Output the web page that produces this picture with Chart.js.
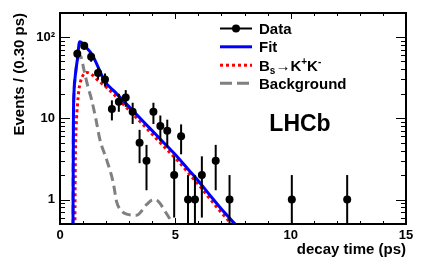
<!DOCTYPE html>
<html>
<head>
<meta charset="utf-8">
<script src="https://cdn.jsdelivr.net/npm/chart.js@4.4.0/dist/chart.umd.min.js"></script>
<style>
  html, body { margin: 0; padding: 0; background: #fff; }
  canvas { display: block; }
</style>
</head>
<body>
<canvas id="decay" width="427" height="267"></canvas>
<script>
// data points, events per 0.30 ps bin
const dataTime = [0.75, 1.05, 1.35, 1.65, 1.95, 2.25, 2.55, 2.85, 3.15, 3.45, 3.75, 4.05,
  4.35, 4.65, 4.95, 5.25, 5.55, 5.85, 6.15, 6.75, 7.35, 10.05, 12.45];
const dataCount = [62, 78, 57, 36, 30, 13, 16, 18, 12, 5, 3, 12, 8, 7, 2, 6, 1, 1, 2, 3, 1, 1, 1];
const dataError = [7.9, 8.8, 7.5, 6, 5.5, 3.6, 4, 4.2, 3.5, 2.2, 1.7, 3.5, 2.8, 2.6, 1.4, 2.4,
  1, 1, 1.4, 1.7, 1, 1, 1];

// total fit
const fitTime = [0.56, 0.58, 0.61, 0.65, 0.69, 0.75, 0.85, 0.92, 1.1, 1.4, 1.95, 2.4, 3.0, 3.9,
  4.5, 5.13, 5.6, 6.07, 6.5, 6.94, 7.59, 8.0];
const fitValue = [0.2, 8, 22, 31, 39, 52, 87, 86, 76, 60, 28.3, 20.8, 13.8, 7.5,
  5.0, 3.25, 2.28, 1.6, 1.13, 0.8, 0.5, 0.37];

// Bs -> K+K- component
const sigTime = [0.64, 0.655, 0.67, 0.70, 0.76, 0.82, 0.97, 1.16, 1.4, 1.62, 2.05, 2.4, 3.0,
  3.9, 4.5, 5.13, 5.6, 6.07, 6.5, 6.94, 7.59, 8.0];
const sigValue = [0.2, 1.5, 4, 8, 15, 22.4, 32.6, 36.6, 34, 29.7, 23.5, 18.8, 12.5,
  6.8, 4.5, 2.95, 2.07, 1.45, 1.02, 0.72, 0.45, 0.33];

// background component
const bkgTime = [0.56, 0.58, 0.61, 0.66, 0.72, 0.80, 0.89, 1.04, 1.21, 1.37, 1.56, 1.73, 2.02,
  2.31, 2.45, 2.6, 2.89, 3.32, 3.76, 4.04, 4.26, 4.55, 4.84, 5.0];
const bkgValue = [0.2, 8, 20, 32, 45, 56, 58, 39, 24.4, 16.9, 9.6, 5.45, 3.1,
  1.6, 0.95, 0.76, 0.66, 0.64, 0.87, 1.0, 0.95, 0.72, 0.52, 0.39];

const xMajor = [0, 5, 10, 15];
const yMajor = [1, 10, 100];
const yLabels = ['1', '10', '10²'];

const FONT = '"Liberation Sans", Arial, Helvetica, sans-serif';

const xy = (xs, ys) => xs.map((x, i) => ({ x, y: ys[i] }));

const xMinor = [];
for (let v = 1; v < 15; v++) if (v % 5) xMinor.push(v);
const yMinor = [];
[0.1, 1, 10, 100].forEach((d) => {
  for (let k = 2; k <= 9; k++) if (k * d >= 0.5 && k * d <= 197) yMinor.push(k * d);
});

const errorBars = {
  id: 'errorBars',
  beforeDatasetDraw(chart, args) {
    if (args.index !== 0) return;
    const { ctx, chartArea: a, scales: { x, y } } = chart;
    ctx.save();
    ctx.beginPath();
    ctx.rect(a.left, a.top, a.right - a.left, a.bottom - a.top);
    ctx.clip();
    ctx.strokeStyle = '#000';
    ctx.lineWidth = 2;
    dataTime.forEach((t, i) => {
      const px = x.getPixelForValue(t);
      const lo = dataCount[i] - dataError[i];
      const top = y.getPixelForValue(dataCount[i] + dataError[i]);
      const bot = lo > 0 ? y.getPixelForValue(lo) : a.bottom + 5;
      ctx.beginPath();
      ctx.moveTo(px, top);
      ctx.lineTo(px, bot);
      ctx.stroke();
    });
    ctx.restore();
  },
};

const frame = {
  id: 'frame',
  afterDraw(chart) {
    const { ctx, chartArea: a, scales: { x, y } } = chart;
    ctx.save();
    ctx.strokeStyle = '#000';
    ctx.lineWidth = 1;
    ctx.beginPath();
    const tickX = (v, len) => {
      const px = Math.round(x.getPixelForValue(v)) + 0.5;
      ctx.moveTo(px, a.bottom); ctx.lineTo(px, a.bottom - len);
      ctx.moveTo(px, a.top); ctx.lineTo(px, a.top + len);
    };
    const tickY = (v, len) => {
      const py = Math.round(y.getPixelForValue(v)) + 0.5;
      ctx.moveTo(a.left, py); ctx.lineTo(a.left + len, py);
      ctx.moveTo(a.right, py); ctx.lineTo(a.right - len, py);
    };
    xMajor.forEach((v) => tickX(v, 6));
    xMinor.forEach((v) => tickX(v, 3));
    yMajor.forEach((v) => tickY(v, 10));
    yMinor.forEach((v) => tickY(v, 5));
    ctx.stroke();
    ctx.lineWidth = 2;
    ctx.strokeRect(a.left, a.top, a.right - a.left, a.bottom - a.top);

    // axis titles
    ctx.fillStyle = '#000';
    ctx.font = `bold 15px ${FONT}`;
    ctx.textBaseline = 'alphabetic';
    ctx.textAlign = 'right';
    ctx.fillText('decay time (ps)', a.right, 253.5);
    ctx.save();
    ctx.translate(23.5, a.top);
    ctx.rotate(-Math.PI / 2);
    ctx.fillText('Events / (0.30 ps)', 0, 0);
    ctx.restore();
    ctx.restore();
  },
};

const legendBox = {
  id: 'legendBox',
  afterDraw(chart) {
    const { ctx } = chart;
    const x0 = 220;
    const x1 = 252;
    const tx = 259;
    const rows = [28.5, 46.8, 65.2, 83.2];
    ctx.save();
    // Data
    ctx.strokeStyle = '#000';
    ctx.lineWidth = 2;
    ctx.beginPath(); ctx.moveTo(x0, rows[0]); ctx.lineTo(x1, rows[0]); ctx.stroke();
    ctx.fillStyle = '#000';
    ctx.beginPath(); ctx.arc((x0 + x1) / 2, rows[0], 4, 0, Math.PI * 2); ctx.fill();
    // Fit
    ctx.lineWidth = 3;
    ctx.strokeStyle = '#0000ff';
    ctx.beginPath(); ctx.moveTo(x0, rows[1]); ctx.lineTo(x1, rows[1]); ctx.stroke();
    // signal
    ctx.strokeStyle = '#ff0000';
    ctx.setLineDash([3, 3]);
    ctx.beginPath(); ctx.moveTo(x0, rows[2]); ctx.lineTo(x1, rows[2]); ctx.stroke();
    // background
    ctx.strokeStyle = '#808080';
    ctx.setLineDash([12, 5]);
    ctx.beginPath(); ctx.moveTo(x0, rows[3]); ctx.lineTo(x1, rows[3]); ctx.stroke();
    ctx.setLineDash([]);

    ctx.fillStyle = '#000';
    ctx.textAlign = 'left';
    ctx.textBaseline = 'alphabetic';
    const big = `bold 15px ${FONT}`;
    const small = `bold 10px ${FONT}`;
    ctx.font = big;
    ctx.fillText('Data', tx, rows[0] + 5.3);
    ctx.fillText('Fit', tx, rows[1] + 5.3);
    ctx.fillText('Background', tx, rows[3] + 5.3);

    // B_s -> K+ K-
    let cx = tx;
    const base = rows[2] + 5.3;
    const put = (s, font, dy) => {
      ctx.font = font;
      ctx.fillText(s, cx, base + dy);
      cx += ctx.measureText(s).width;
    };
    put('B', big, 0);
    put('s', small, 3);
    put('→', `15px ${FONT}`, 0);
    put('K', big, 0);
    put('+', small, -6);
    put('K', big, 0);
    put('-', small, -6);

    ctx.font = `bold 23px ${FONT}`;
    ctx.textAlign = 'center';
    ctx.fillText('LHCb', 300, 130.5);
    ctx.restore();
  },
};

const curve = (label, xs, ys, color, dash) => ({
  type: 'line',
  label,
  data: xy(xs, ys),
  borderColor: color,
  borderWidth: 3,
  borderDash: dash,
  pointRadius: 0,
  pointHoverRadius: 0,
  cubicInterpolationMode: 'monotone',
  fill: false,
  clip: 0,
});

new Chart(document.getElementById('decay'), {
  type: 'scatter',
  data: {
    datasets: [
      {
        label: 'Data',
        data: xy(dataTime, dataCount),
        pointRadius: 4,
        pointHoverRadius: 4,
        pointBorderWidth: 0,
        backgroundColor: '#000',
        borderColor: '#000',
        showLine: false,
        clip: 0,
      },
      curve('Fit', fitTime, fitValue, '#0000ff', []),
      curve('Bs→K+K-', sigTime, sigValue, '#ff0000', [3, 3]),
      curve('Background', bkgTime, bkgValue, '#808080', [9, 5]),
    ],
  },
  options: {
    responsive: false,
    animation: false,
    devicePixelRatio: 1,
    layout: { padding: { left: 0, top: 13, right: 21, bottom: 0 } },
    plugins: { legend: { display: false }, tooltip: { enabled: false } },
    scales: {
      x: {
        type: 'linear',
        min: 0,
        max: 15,
        afterFit(s) { s.height = 43; },
        afterBuildTicks(s) { s.ticks = xMajor.map((v) => ({ value: v })); },
        grid: { display: false, drawTicks: false },
        border: { display: false },
        ticks: {
          padding: 4,
          color: '#000',
          autoSkip: false,
          maxRotation: 0,
          font: { family: FONT, size: 13, weight: 'bold' },
        },
      },
      y: {
        type: 'logarithmic',
        min: 0.5,
        max: 197,
        afterFit(s) { s.width = 60; },
        afterBuildTicks(s) { s.ticks = yMajor.map((v) => ({ value: v })); },
        grid: { display: false, drawTicks: false },
        border: { display: false },
        ticks: {
          padding: 5,
          color: '#000',
          autoSkip: false,
          callback: (v) => yLabels[yMajor.indexOf(v)],
          font: { family: FONT, size: 13, weight: 'bold' },
        },
      },
    },
  },
  plugins: [errorBars, frame, legendBox],
});
</script>
</body>
</html>
